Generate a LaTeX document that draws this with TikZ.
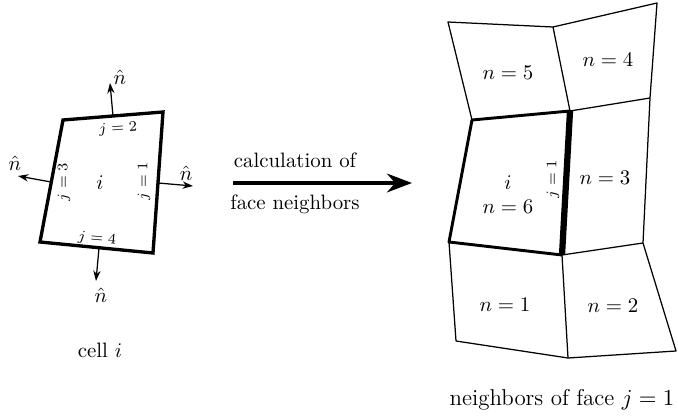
\documentclass[tikz,border=0pt]{standalone}
\usetikzlibrary{arrows.meta}
\begin{document}
\begin{tikzpicture}[x=0.48pt,y=-0.48pt,
    facelabel/.style={font=\scriptsize, inner sep=1pt},
    normalarrow/.style={-{Stealth[length=5pt,width=3.5pt]}, semithick},
    gridline/.style={line width=0.6pt, line join=round},
    cellline/.style={line width=1.4pt, line join=round}]
  \useasboundingbox (0,0) rectangle (678,416);
  % Single cell
  \coordinate (ca) at (63,120);
  \coordinate (cb) at (163,112);
  \coordinate (cc) at (153,253);
  \coordinate (cd) at (40,242);
  \draw[line width=1.6pt, line join=miter] (ca) -- (cb) -- (cc) -- (cd) -- cycle;
  \node (celli) at (100,183) {$i$};
  \node[facelabel, rotate=4] (jtwo) at (118,129) {$j=2$};
  \node[facelabel, rotate=-5] (jfour) at (97,239) {$j=4$};
  \node[facelabel, rotate=90] (jone) at (144,181) {$j=1$};
  \node[facelabel, rotate=90] (jthree) at (64,182) {$j=3$};
  \node (celltext) at (100,350) {cell $i$};
  % Face normals
  \coordinate (ft) at (113,116); \coordinate (fr) at (158,183);
  \coordinate (fl) at (51,182);  \coordinate (fb) at (99,248);
  \coordinate (et) at (110,83);  \coordinate (er) at (193,186);
  \coordinate (el) at (18,176);  \coordinate (eb) at (96,281);
  \draw[normalarrow] (ft) -- (et);
  \draw[normalarrow] (fr) -- (er);
  \draw[normalarrow] (fl) -- (el);
  \draw[normalarrow] (fb) -- (eb);
  \node (nt) at (120,77) {$\hat{n}$};
  \node (nr) at (186,173) {$\hat{n}$};
  \node (nl) at (15,163) {$\hat{n}$};
  \node (nb) at (101,295) {$\hat{n}$};
  % Main arrow
  \coordinate (as) at (233,183);
  \coordinate (ae) at (412,183);
  \draw[line width=1.6pt, -{Stealth[length=12pt,width=9pt]}] (as) -- (ae);
  \node (calc) at (295,160) {calculation of};
  \node (face) at (295,204) {face neighbors};
  % Neighbour grid
  \coordinate (g1) at (448,22);  \coordinate (g2) at (553,27);  \coordinate (g3) at (657,3);
  \coordinate (g4) at (472,120); \coordinate (g5) at (570,111); \coordinate (g6) at (650,98);
  \coordinate (g7) at (449,242); \coordinate (g8) at (562,255); \coordinate (g9) at (643,243);
  \coordinate (g10) at (456,341); \coordinate (g11) at (568,358); \coordinate (g12) at (676,351);
  \draw[gridline] (g4) -- (g1) -- (g2) -- (g3) -- (g6) -- (g9) -- (g12) -- (g11) -- (g10) -- (g7);
  \draw[gridline] (g2) -- (g5) -- (g6);
  \draw[gridline] (g8) -- (g9);
  \draw[gridline] (g8) -- (g11);
  \draw[cellline] (g5) -- (g4) -- (g7) -- (g8);
  \draw[line width=3pt] (g5) -- (g8);
  \node (nfive) at (508,73) {$n=5$};
  \node (nfour) at (608,60) {$n=4$};
  \node (nthree) at (605,178) {$n=3$};
  \node (gridi) at (508,183) {$i$};
  \node (nsix) at (508,207) {$n=6$};
  \node[facelabel, rotate=90] (gridj) at (553,179) {$j=1$};
  \node (none) at (505,305) {$n=1$};
  \node (ntwo) at (613,306) {$n=2$};
  \node[font=\fontsize{11}{13}\selectfont] (gridtext) at (562,400) {neighbors of face $j=1$};
\end{tikzpicture}
\end{document}
